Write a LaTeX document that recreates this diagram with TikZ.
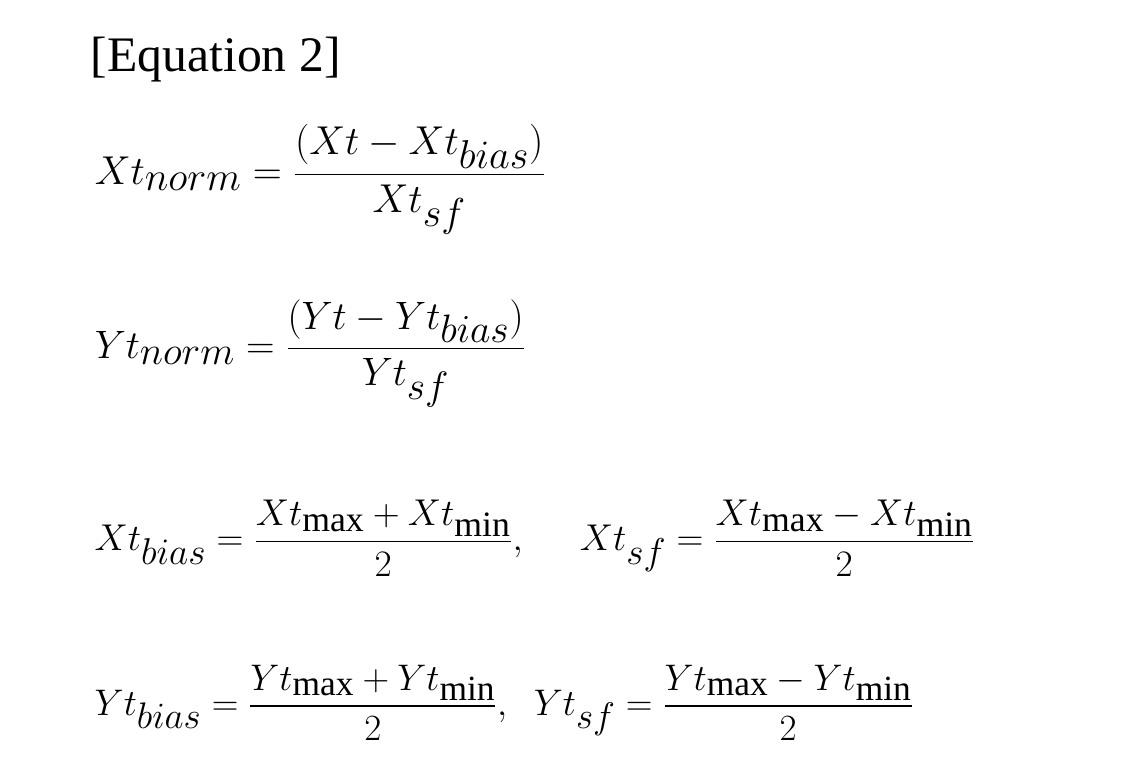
\documentclass[tikz,border=0pt]{standalone}
\usepackage{amsmath}
\usepackage{fontspec}
\setmainfont{Liberation Serif}
\usetikzlibrary{positioning}
\tikzset{eqn/.style={anchor=west,inner sep=0pt,font=\fontsize{34}{40}\selectfont}}
\begin{document}
\begin{tikzpicture}
\useasboundingbox (0,0) rectangle (29.7,20.65);
\node[eqn,anchor=base west,scale=1.1] (title) at (2.4,18.75) {[Equation 2]};
% normalised outputs
\node[eqn,scale=1.22] (xnorm) at (2.5,15.9) {$\displaystyle Xt_{norm}=\frac{(Xt-Xt_{bias})}{Xt_{sf}}$};
\node[eqn,scale=1.2] (ynorm) at (2.5,11.3) {$\displaystyle Yt_{norm}=\frac{(Yt-Yt_{bias})}{Yt_{sf}}$};
% bias and scale factor
\node[eqn,scale=1.13] (xbias) at (2.5,6.4) {$\displaystyle Xt_{bias}=\frac{Xt_{\max}+Xt_{\min}}{2},\quad Xt_{sf}=\frac{Xt_{\max}-Xt_{\min}}{2}$};
\node[eqn,scale=1.12] (ybias) at (2.5,2.05) {$\displaystyle Yt_{bias}=\frac{Yt_{\max}+Yt_{\min}}{2},\;\; Yt_{sf}=\frac{Yt_{\max}-Yt_{\min}}{2}$};
\end{tikzpicture}
\end{document}
